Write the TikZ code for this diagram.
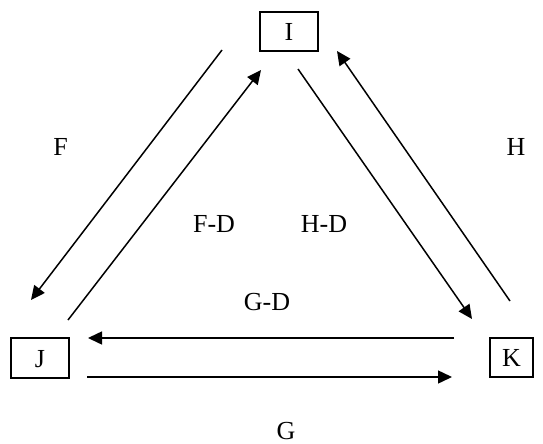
\documentclass[tikz,border=0pt]{standalone}
\usepackage{fontspec}
\setmainfont{Liberation Serif}
\usetikzlibrary{arrows.meta}
\begin{document}
\begin{tikzpicture}[x=1pt,y=-1pt,
  every node/.style={font=\fontsize{26}{30}\selectfont, inner sep=0pt},
  vbox/.style={draw, line width=1.5pt, text height=18pt, text depth=0pt},
  lbl/.style={anchor=base},
  conn/.style={line width=1.5pt, -{Triangle[length=14pt,width=13pt]}}]
\useasboundingbox (0,0) rectangle (543,444);
\node[vbox, minimum width=58pt, minimum height=39pt] (I) at (289,31.5) {I};
\node[vbox, minimum width=58pt, minimum height=40pt] (J) at (40,358) {J};
\node[vbox, minimum width=43pt, minimum height=39pt] (K) at (511.5,357.5) {K};
% endpoints
\coordinate (f1) at (222,50);   \coordinate (f2) at (31,300);
\coordinate (fd1) at (68,320);  \coordinate (fd2) at (261,70);
\coordinate (hd1) at (298,69);  \coordinate (hd2) at (472,319);
\coordinate (h1) at (510,301);  \coordinate (h2) at (337,51);
\coordinate (gd1) at (454,338); \coordinate (gd2) at (88,338);
\coordinate (g1) at (87,377);   \coordinate (g2) at (452,377);
\draw[conn] (f1) -- (f2);
\draw[conn] (fd1) -- (fd2);
\draw[conn] (hd1) -- (hd2);
\draw[conn] (h1) -- (h2);
\draw[conn] (gd1) -- (gd2);
\draw[conn] (g1) -- (g2);
% labels
\node[lbl] (lF) at (60.5,155) {F};
\node[lbl] (lH) at (516,155) {H};
\node[lbl] (lG) at (286,439.5) {G};
\node[lbl] (lFD) at (214,232) {F-D};
\node[lbl] (lHD) at (324,232) {H-D};
\node[lbl] (lGD) at (267,310) {G-D};
\end{tikzpicture}
\end{document}
